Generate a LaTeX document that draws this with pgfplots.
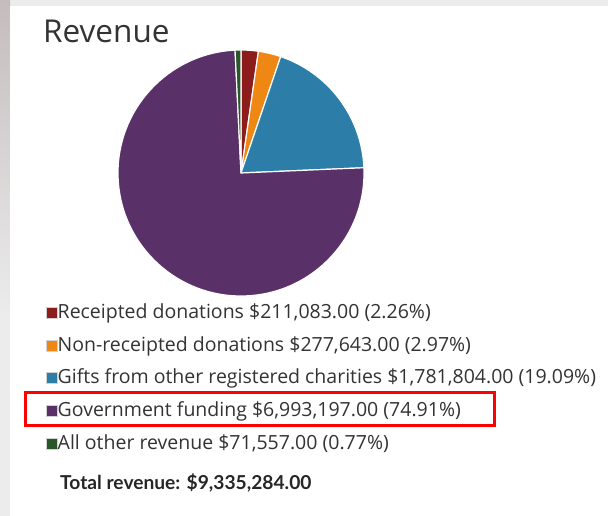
\documentclass[border=0pt]{standalone}
\usepackage{pgfplots}
\usepackage{pgfplotstable}
\pgfplotsset{compat=1.18}
\usepackage{fontspec}
\setmainfont{Open Sans}
\newfontfamily\latofont{Lato}

\definecolor{cRed}{HTML}{8D1C1D}
\definecolor{cOrange}{HTML}{EF8714}
\definecolor{cBlue}{HTML}{2C7EA8}
\definecolor{cPurple}{HTML}{5A3069}
\definecolor{cGreen}{HTML}{28582A}
\definecolor{txt}{HTML}{333333}
\definecolor{bggray}{HTML}{ECECEC}
\definecolor{stripgray}{HTML}{C4BCBD}

% revenue by source, percent of total
\pgfplotstableread{
name         value    pct    color
Receipted    211083   2.26   cRed
NonReceipted 277643   2.97   cOrange
Gifts        1781804  19.09  cBlue
Government   6993197  74.91  cPurple
Other        71557    0.77   cGreen
}\revdata

\begin{document}
\begin{tikzpicture}
\begin{axis}[
    at={(0,0)}, anchor=south west,
    x=1pt, y=1pt, scale only axis,
    xmin=0, xmax=608, ymin=0, ymax=516,
    hide axis, clip=false,
    legend image code/.code={\draw[#1] (0pt,-5.5pt) rectangle (11pt,5.5pt);},
    legend cell align=left,
    legend style={
        at={(axis cs:45.5,137.5)}, anchor=west,
        draw=none, fill=none, inner sep=0pt,
        row sep=13.2pt,
        font=\fontsize{19.5}{23}\selectfont\color{txt},
        nodes={text height=15pt, text depth=4.5pt, inner sep=0pt},
        /tikz/every even column/.append style={column sep=0pt},
    },
]
% screenshot background
\fill[bggray] (axis cs:0,0) rectangle (axis cs:608,516);
\shade[top color=stripgray, bottom color=bggray] (axis cs:0,200) rectangle (axis cs:10,516);
\fill[white] (axis cs:10,0) rectangle (axis cs:608,510);

% pie, clockwise from the top
\xdef\startang{90}
\pgfplotsinvokeforeach{0,...,4}{
    \pgfplotstablegetelem{#1}{pct}\of\revdata \let\p\pgfplotsretval
    \pgfplotstablegetelem{#1}{color}\of\revdata \let\c\pgfplotsretval
    \pgfmathsetmacro\endang{\startang-3.6*\p}
    \edef\temp{\noexpand\filldraw[fill=\c, draw=white, line width=1.2pt]
        (axis cs:241,343) -- ++(\startang:123pt)
        arc[start angle=\startang, end angle=\endang, radius=123pt] -- cycle;}
    \temp
    \xdef\startang{\endang}
}

\node[anchor=base west, inner sep=0pt, text=txt, font=\fontsize{31.5}{36}\selectfont]
    at (axis cs:43,473) {Revenue};

\addlegendimage{fill=cRed, draw=black!18, line width=1pt}
\addlegendentry{Receipted donations \$211,083.00 (2.26\%)}
\addlegendimage{fill=cOrange, draw=black!18, line width=1pt}
\addlegendentry{Non-receipted donations \$277,643.00 (2.97\%)}
\addlegendimage{fill=cBlue, draw=black!18, line width=1pt}
\addlegendentry{Gifts from other registered charities \$1,781,804.00 (19.09\%)}
\addlegendimage{fill=cPurple, draw=black!18, line width=1pt}
\addlegendentry{Government funding \$6,993,197.00 (74.91\%)}
\addlegendimage{fill=cGreen, draw=black!18, line width=1pt}
\addlegendentry{All other revenue \$71,557.00 (0.77\%)}

\draw[red, line width=3pt] (axis cs:25.5,123.5) rectangle (axis cs:494,90.5);

\node[anchor=base west, inner sep=0pt, text=black!85,
      font=\latofont\bfseries\fontsize{19.2}{22}\selectfont]
    at (axis cs:60,26) {Total revenue: \$9,335,284.00};
\end{axis}
\end{tikzpicture}
\end{document}
